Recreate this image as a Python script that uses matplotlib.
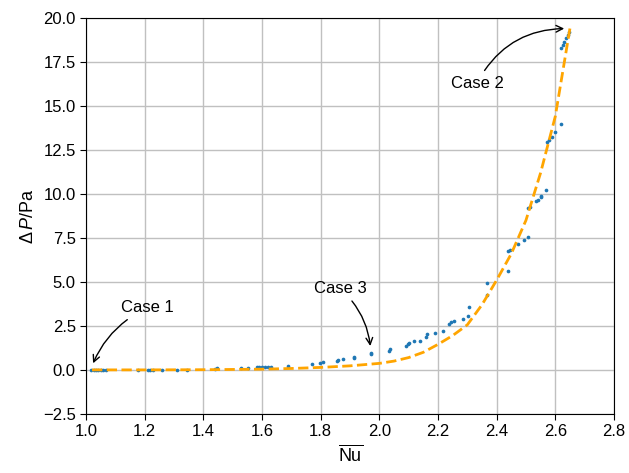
import matplotlib
matplotlib.use("Agg")
import matplotlib.pyplot as plt

plt.rcParams["font.family"] = ["Liberation Sans", "DejaVu Sans"]
plt.rcParams["mathtext.fontset"] = "custom"
plt.rcParams["mathtext.rm"] = "Liberation Sans"
plt.rcParams["mathtext.it"] = "Liberation Sans:italic"

# measured mean Nusselt number vs. pressure drop
nu = [1.017, 1.025, 1.033, 1.041, 1.050, 1.058, 1.068,
      1.178, 1.212, 1.219, 1.227, 1.258, 1.311, 1.343,
      1.440, 1.445, 1.528, 1.553, 1.582, 1.588, 1.599, 1.610, 1.620, 1.630, 1.690,
      1.770, 1.798, 1.807, 1.855, 1.860, 1.877, 1.914, 1.914, 1.971, 1.972,
      2.032, 2.035, 2.090, 2.097, 2.102, 2.117, 2.138, 2.160, 2.163,
      2.190, 2.218, 2.238, 2.246, 2.255, 2.284, 2.301, 2.305,
      2.368, 2.368, 2.440, 2.440, 2.446, 2.474, 2.494, 2.508,
      2.506, 2.514, 2.534, 2.540, 2.551, 2.553, 2.570,
      2.572, 2.580, 2.588, 2.600, 2.620,
      2.620, 2.625, 2.631, 2.637, 2.643, 2.648]
dp = [0, 0, 0, 0, 0, 0, 0,
      0, 0.01, 0.01, 0.01, 0.01, 0.02, 0.02,
      0.05, 0.09, 0.09, 0.10, 0.14, 0.14, 0.14, 0.15, 0.15, 0.15, 0.23,
      0.36, 0.40, 0.46, 0.52, 0.59, 0.61, 0.67, 0.74, 0.89, 0.96,
      1.07, 1.17, 1.36, 1.49, 1.54, 1.62, 1.66, 1.85, 2.03,
      2.08, 2.21, 2.61, 2.71, 2.76, 2.90, 3.09, 3.56,
      4.24, 4.96, 5.61, 6.73, 6.79, 7.16, 7.41, 7.56,
      9.21, 9.27, 9.59, 9.65, 9.84, 9.90, 10.22,
      12.94, 13.07, 13.26, 13.50, 13.96,
      18.31, 18.46, 18.65, 18.84, 19.03, 19.22]

# fitted trend
fit_nu = [1.02, 1.20, 1.40, 1.60, 1.70, 1.80, 1.90, 2.00, 2.05, 2.10, 2.15,
          2.20, 2.25, 2.30, 2.35, 2.40, 2.45, 2.50, 2.55, 2.60, 2.65]
fit_dp = [0.00, 0.00, 0.01, 0.04, 0.08, 0.14, 0.23, 0.37, 0.50, 0.70, 1.00,
          1.45, 1.95, 2.56, 3.70, 5.10, 6.60, 8.50, 11.20, 14.40, 19.40]

# (label, text position, arrow tip, arc radius)
cases = [("Case 1", (1.21, 3.53), (1.02, 0.23), 0.2),
         ("Case 3", (1.866, 4.62), (1.97, 1.2), -0.2),
         ("Case 2", (2.333, 16.3), (2.64, 19.4), -0.3)]

fig = plt.figure(figsize=(6.29, 4.73), dpi=100)
ax = fig.add_axes([0.137, 0.125, 0.839, 0.837])

ax.grid(True, color="#c0c0c0", linewidth=1.0)
ax.set_axisbelow(True)
ax.scatter(nu, dp, s=7, color="tab:blue", zorder=3, linewidths=0)
ax.plot(fit_nu, fit_dp, "--", color="orange", linewidth=2, zorder=4)

for label, txt, tip, rad in cases:
    ax.annotate(label, xy=tip, xytext=txt, ha="center", va="center",
                fontsize=12,
                arrowprops=dict(arrowstyle="->", color="black", lw=1.0,
                                connectionstyle="arc3,rad=%s" % rad))

ax.set_xlim(1.0, 2.8)
ax.set_ylim(-2.5, 20.0)
ax.set_xticks([1.0, 1.2, 1.4, 1.6, 1.8, 2.0, 2.2, 2.4, 2.6, 2.8])
ax.set_yticks([-2.5, 0.0, 2.5, 5.0, 7.5, 10.0, 12.5, 15.0, 17.5, 20.0])
ax.tick_params(labelsize=12, direction="out", length=4)
ax.set_xlabel(r"$\overline{\mathrm{Nu}}$", fontsize=13)
ax.set_ylabel(r"$\mathit{Δ}\,P$/Pa", fontsize=13)

fig.savefig("out.png", dpi=100)
